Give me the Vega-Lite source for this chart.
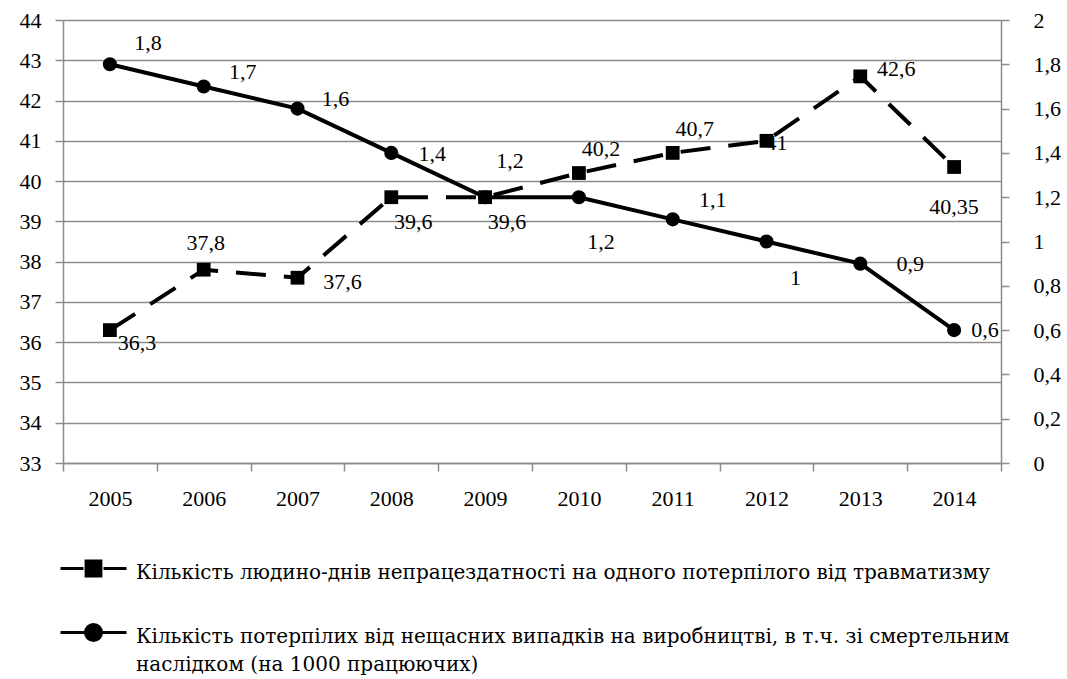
{
  "$schema": "https://vega.github.io/schema/vega-lite/v6.json",
  "width": 938,
  "height": 443,
  "autosize": "none",
  "padding": {"left": 63, "top": 20, "right": 66, "bottom": 216},
  "background": "white",
  "config": {
    "font": "Liberation Serif",
    "view": {"stroke": null},
    "axis": {
      "labelFont": "Liberation Serif",
      "labelFontSize": 22,
      "labelColor": "black",
      "domainColor": "#8c8c8c",
      "tickColor": "#8c8c8c",
      "gridColor": "#8c8c8c",
      "domainWidth": 1.5,
      "tickWidth": 1.5,
      "gridWidth": 1.5,
      "tickSize": 8,
      "title": null
    },
    "text": {"font": "Liberation Serif", "fontSize": 22, "color": "black"}
  },
  "data": {
    "values": [
      {"year": "2005", "days": 36.3, "victims": 1.8},
      {"year": "2006", "days": 37.8, "victims": 1.7},
      {"year": "2007", "days": 37.6, "victims": 1.6},
      {"year": "2008", "days": 39.6, "victims": 1.4},
      {"year": "2009", "days": 39.6, "victims": 1.2},
      {"year": "2010", "days": 40.2, "victims": 1.2},
      {"year": "2011", "days": 40.7, "victims": 1.1},
      {"year": "2012", "days": 41, "victims": 1},
      {"year": "2013", "days": 42.6, "victims": 0.9},
      {"year": "2014", "days": 40.35, "victims": 0.6}
    ]
  },
  "transform": [
    {"calculate": "replace(format(datum.days, '~g'), '.', ',')", "as": "daysLabel"},
    {"calculate": "replace(format(datum.victims, '~g'), '.', ',')", "as": "victimsLabel"}
  ],
  "encoding": {
    "x": {
      "field": "year",
      "type": "ordinal",
      "scale": {"type": "band", "paddingInner": 0, "paddingOuter": 0},
      "axis": {"labelAngle": 0, "tickBand": "extent", "grid": false, "labelPadding": 17}
    }
  },
  "layer": [
    {
      "encoding": {
        "y": {
          "field": "days",
          "type": "quantitative",
          "scale": {"domain": [33, 44], "zero": false, "nice": false},
          "axis": {"values": [33, 34, 35, 36, 37, 38, 39, 40, 41, 42, 43, 44], "grid": true, "labelPadding": 14, "orient": "left"}
        }
      },
      "layer": [
        {"mark": {"type": "line", "strokeWidth": 4, "strokeDash": [30, 18], "color": "black"}, "encoding": {}},
        {
          "transform": [{"filter": "datum.year == 'none'"}],
          "mark": {"type": "line", "strokeWidth": 4},
          "encoding": {
            "color": {
              "datum": "A",
              "scale": {"domain": ["A", "B"], "range": ["black", "black"]},
              "legend": {
                "orient": "none",
                "legendX": 9,
                "legendY": 527,
                "direction": "vertical",
                "title": null,
                "symbolSize": 1600,
                "rowPadding": 28,
                "labelFont": "DejaVu Serif",
                "labelFontSize": 20,
                "labelColor": "black",
                "labelLimit": 1000,
                "labelOffset": 21,
                "labelExpr": "datum.value == 'A' ? 'Кількість людино-днів непрацездатності на одного потерпілого від травматизму' : ['Кількість потерпілих від нещасних випадків на виробництві, в т.ч. зі смертельним', 'наслідком (на 1000 працюючих)']",
                "encode": {
                  "labels": {
                    "update": {
                      "baseline": {"value": "top"},
                      "dy": {"value": -6},
                      "lineHeight": {"value": 28}
                    }
                  },
                  "symbols": {
                    "update": {
                      "shape": {"signal": "datum.value == 'A' ? 'M-1.65,0H-0.5M0.5,0H1.65M-0.37,-0.37H0.37V0.37H-0.37Z' : 'M-1.65,0H1.65M0.4,0A0.4,0.4 0 1 1 -0.4,0A0.4,0.4 0 1 1 0.4,0Z'"},
                      "fill": {"value": "black"},
                      "stroke": {"value": "black"},
                      "strokeWidth": {"value": 3},
                      "opacity": {"value": 1}
                    }
                  }
                }
              }
            }
          }
        },
        {"mark": {"type": "point", "shape": "square", "size": 190, "filled": true, "color": "black", "opacity": 1}},
        {"transform": [{"filter": "datum.year == '2005'"}], "mark": {"type": "text", "dx": 27, "dy": 13}, "encoding": {"text": {"field": "daysLabel"}}},
        {"transform": [{"filter": "datum.year == '2006'"}], "mark": {"type": "text", "dx": 2, "dy": -27}, "encoding": {"text": {"field": "daysLabel"}}},
        {"transform": [{"filter": "datum.year == '2007'"}], "mark": {"type": "text", "dx": 45, "dy": 4}, "encoding": {"text": {"field": "daysLabel"}}},
        {"transform": [{"filter": "datum.year == '2008' || datum.year == '2009'"}], "mark": {"type": "text", "dx": 22, "dy": 25}, "encoding": {"text": {"field": "daysLabel"}}},
        {"transform": [{"filter": "datum.year == '2010' || datum.year == '2011'"}], "mark": {"type": "text", "dx": 22, "dy": -24}, "encoding": {"text": {"field": "daysLabel"}}},
        {"transform": [{"filter": "datum.year == '2012'"}], "mark": {"type": "text", "dx": 10, "dy": 2}, "encoding": {"text": {"field": "daysLabel"}}},
        {"transform": [{"filter": "datum.year == '2013'"}], "mark": {"type": "text", "dx": 36, "dy": -7}, "encoding": {"text": {"field": "daysLabel"}}},
        {"transform": [{"filter": "datum.year == '2014'"}], "mark": {"type": "text", "dx": 0, "dy": 40}, "encoding": {"text": {"field": "daysLabel"}}}
      ]
    },
    {
      "encoding": {
        "y": {
          "field": "victims",
          "type": "quantitative",
          "scale": {"domain": [0, 2], "nice": false},
          "axis": {
            "orient": "right",
            "values": [0, 0.2, 0.4, 0.6, 0.8, 1, 1.2, 1.4, 1.6, 1.8, 2],
            "format": "~g",
            "grid": false,
            "labelPadding": 24,
            "labelExpr": "replace(datum.label, '.', ',')"
          }
        }
      },
      "layer": [
        {
          "mark": {"type": "line", "strokeWidth": 4},
          "encoding": {"color": {"datum": "B"}}
        },
        {"mark": {"type": "point", "shape": "circle", "size": 200, "filled": true, "color": "black", "opacity": 1}},
        {"transform": [{"filter": "datum.year == '2005'"}], "mark": {"type": "text", "dx": 38, "dy": -21}, "encoding": {"text": {"field": "victimsLabel"}}},
        {"transform": [{"filter": "datum.year == '2006'"}], "mark": {"type": "text", "dx": 39, "dy": -14}, "encoding": {"text": {"field": "victimsLabel"}}},
        {"transform": [{"filter": "datum.year == '2007'"}], "mark": {"type": "text", "dx": 38, "dy": -10}, "encoding": {"text": {"field": "victimsLabel"}}},
        {"transform": [{"filter": "datum.year == '2008'"}], "mark": {"type": "text", "dx": 41, "dy": 1}, "encoding": {"text": {"field": "victimsLabel"}}},
        {"transform": [{"filter": "datum.year == '2009'"}], "mark": {"type": "text", "dx": 25, "dy": -36}, "encoding": {"text": {"field": "victimsLabel"}}},
        {"transform": [{"filter": "datum.year == '2010'"}], "mark": {"type": "text", "dx": 22, "dy": 45}, "encoding": {"text": {"field": "victimsLabel"}}},
        {"transform": [{"filter": "datum.year == '2011'"}], "mark": {"type": "text", "dx": 40, "dy": -19}, "encoding": {"text": {"field": "victimsLabel"}}},
        {"transform": [{"filter": "datum.year == '2012'"}], "mark": {"type": "text", "dx": 29, "dy": 36}, "encoding": {"text": {"field": "victimsLabel"}}},
        {"transform": [{"filter": "datum.year == '2013'"}], "mark": {"type": "text", "dx": 50, "dy": 0}, "encoding": {"text": {"field": "victimsLabel"}}},
        {"transform": [{"filter": "datum.year == '2014'"}], "mark": {"type": "text", "dx": 31, "dy": 0}, "encoding": {"text": {"field": "victimsLabel"}}}
      ]
    }
  ],
  "resolve": {"scale": {"y": "independent"}}
}
